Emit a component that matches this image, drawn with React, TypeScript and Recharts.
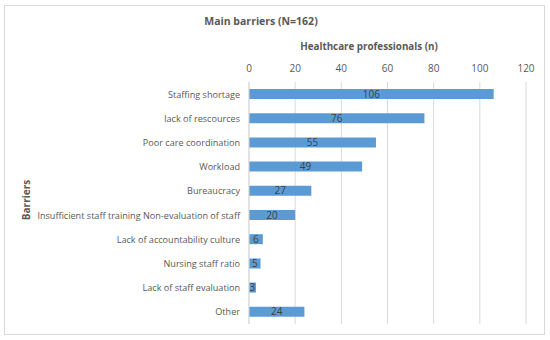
import React from "react";
import { BarChart, Bar, XAxis, YAxis, CartesianGrid, LabelList } from "recharts";

const categories = [
  "Staffing shortage",
  "lack of rescources",
  "Poor care coordination",
  "Workload",
  "Bureaucracy",
  "Insufficient staff training Non-evaluation of staff",
  "Lack of accountability culture",
  "Nursing staff ratio",
  "Lack of staff evaluation",
  "Other",
];
const values = [106, 76, 55, 49, 27, 20, 6, 5, 3, 24];
const xTicks = [0, 20, 40, 60, 80, 100, 120];

const data = categories.map((name, i) => ({ name, value: values[i] }));

const FONT = "'Open Sans', 'Noto Sans', sans-serif";

const CategoryTick = (props: any) => {
  const { x, y, payload } = props;
  return (
    <text x={x} y={y} dy={3.5} textAnchor="end" fill="#595959" fontSize={9.1} fontFamily={FONT}>
      {payload.value}
    </text>
  );
};

export default function App() {
  return (
    <div style={{ position: "absolute", left: 0, top: 0, width: 550, height: 340, background: "#fff", fontFamily: FONT }}>
      <div style={{ position: "absolute", left: 4, top: 5, width: 541, height: 330, border: "1px solid #D9D9D9", boxSizing: "border-box" }} />
      <div style={{ position: "absolute", left: 0, width: 522, top: 14, textAlign: "center", fontSize: 10.5, fontWeight: 700, color: "#595959" }}>
        Main barriers (N=162)
      </div>
      <div style={{ position: "absolute", left: 250, width: 238, top: 40, textAlign: "center", fontSize: 9.8, fontWeight: 700, color: "#595959" }}>
        Healthcare professionals (n)
      </div>
      <div style={{ position: "absolute", left: 26, top: 200, transform: "translate(-50%, -50%) rotate(-90deg)", fontSize: 10, fontWeight: 700, color: "#595959", whiteSpace: "nowrap" }}>
        Barriers
      </div>
      <BarChart
        width={550}
        height={340}
        data={data}
        layout="vertical"
        margin={{ top: 52, right: 24, bottom: 16, left: 0 }}
        style={{ position: "absolute", left: 0, top: 0 }}
      >
        <CartesianGrid horizontal={false} stroke="#D9D9D9" />
        <XAxis
          type="number"
          orientation="top"
          domain={[0, 120]}
          ticks={xTicks}
          height={30}
          axisLine={false}
          tickLine={false}
          tick={{ fill: "#595959", fontSize: 10, fontFamily: FONT }}
          tickMargin={4}
        />
        <YAxis
          type="category"
          dataKey="name"
          width={249}
          axisLine={{ stroke: "#D9D9D9" }}
          tickLine={false}
          tickSize={0}
          interval={0}
          tickMargin={9}
          tick={<CategoryTick />}
        />
        <Bar dataKey="value" fill="#5B9BD5" barSize={10} isAnimationActive={false}>
          <LabelList dataKey="value" position="center" fill="#404040" fontSize={10} fontFamily={FONT} />
        </Bar>
      </BarChart>
    </div>
  );
}
